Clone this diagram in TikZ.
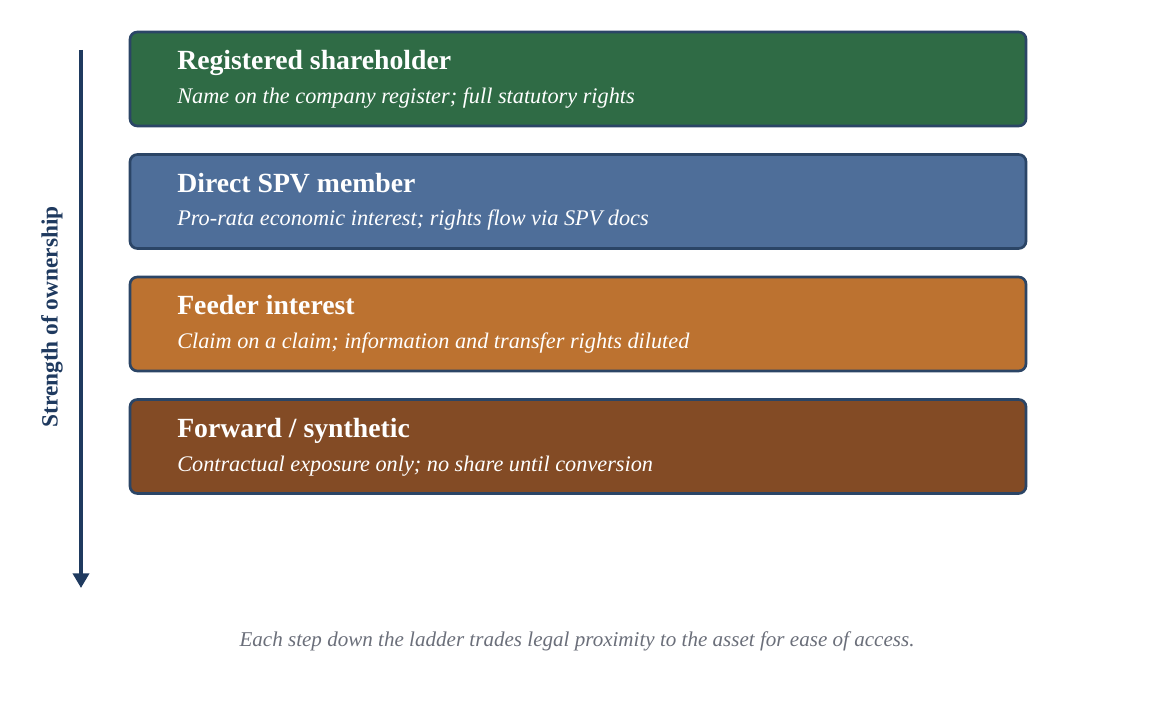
\documentclass[tikz,border=0pt]{standalone}
\usepackage{fontspec}
\setmainfont{Liberation Serif}
\usepackage{tikz}
\usetikzlibrary{arrows.meta, calc}

\definecolor{rungframe}{HTML}{2B4566}
\definecolor{rungA}{HTML}{2F6B45}
\definecolor{rungB}{HTML}{4E6E99}
\definecolor{rungC}{HTML}{BC7230}
\definecolor{rungD}{HTML}{834B25}
\definecolor{ladderblue}{HTML}{1F3A5F}
\definecolor{notegray}{HTML}{6B6F7A}

\tikzset{
	rung/.style={draw=rungframe, line width=2pt, rounded corners=5.5pt,
		minimum width=672pt, minimum height=70.5pt, inner sep=0pt},
	rungtitle/.style={anchor=base west, text=white, font=\fontsize{20.8}{24}\selectfont\bfseries, inner sep=0pt},
	rungsub/.style={anchor=base west, text=white, font=\fontsize{16.7}{20}\selectfont\itshape, inner sep=0pt},
}

\begin{document}
\begin{tikzpicture}[x=0.75pt, y=-0.75pt]
	
	%// page frame, 1156 x 702 px
	\useasboundingbox (0,0) rectangle (1156,702);
	
	%// the four rungs
	\foreach \i/\col/\ttl/\sub in {
		1/rungA/{Registered shareholder}/{Name on the company register; full statutory rights},
		2/rungB/{Direct SPV member}/{Pro-rata economic interest; rights flow via SPV docs},
		3/rungC/{Feeder interest}/{Claim on a claim; information and transfer rights diluted},
		4/rungD/{Forward / synthetic}/{Contractual exposure only; no share until conversion}}
	{
		\node [rung, fill=\col] (box\i) at (578, 79+122.5*\i-122.5) {};
		\node [rungtitle] (title\i) at (177, 70+122.5*\i-122.5) {\ttl};
		\node [rungsub] (sub\i) at (177, 103.5+122.5*\i-122.5) {\sub};
	}
	
	%// strength arrow
	\coordinate (arrtop) at (81, 50);
	\coordinate (arrbot) at (81, 588);
	\draw [ladderblue, line width=3pt, -{Triangle[length=11pt, width=12pt]}] (arrtop) -- (arrbot);
	\node [rotate=90, text=ladderblue, font=\fontsize{17.5}{20}\selectfont\bfseries] (strength) at (52, 317) {Strength of ownership};
	
	\node [text=notegray, font=\fontsize{15.8}{19}\selectfont\itshape] (note) at (577, 641) {Each step down the ladder trades legal proximity to the asset for ease of access.};
	
\end{tikzpicture}
\end{document}
